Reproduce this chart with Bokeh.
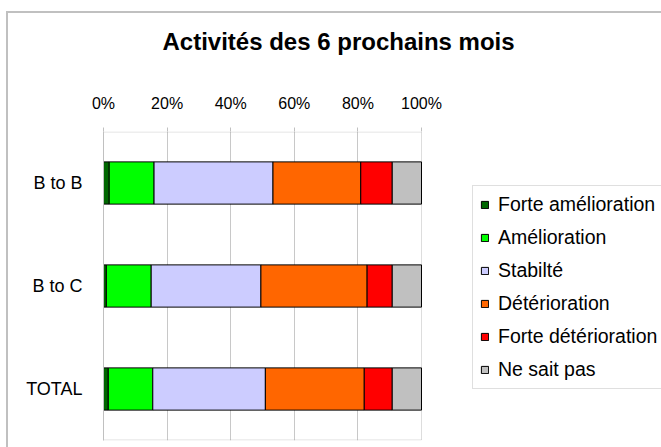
from bokeh.plotting import figure
from bokeh.models import (Legend, LegendItem, FixedTicker, PrintfTickFormatter,
                          Range1d, FactorRange, ColumnDataSource, InlineStyleSheet,
                          BoxAnnotation)
from bokeh.embed import file_html
from bokeh.resources import INLINE

# ---- data ----
categories = ["B to B", "B to C", "TOTAL"]
series = ["Forte amélioration", "Amélioration", "Stabilté", "Détérioration",
          "Forte détérioration", "Ne sait pas"]
forte_amelioration = [1.8, 0.9, 1.5]
amelioration = [14.1, 14.1, 14.0]
stabilite = [37.4, 34.5, 35.4]
deterioration = [27.6, 33.4, 31.1]
forte_deterioration = [9.9, 7.9, 8.8]
ne_sait_pas = [9.2, 9.2, 9.2]
x_ticks = [0, 20, 40, 60, 80, 100]
title_text = "Activités des 6 prochains mois"

colors = ["#006600", "#00ff00", "#ccccff", "#ff6600", "#ff0000", "#c0c0c0"]
keys = ["s0", "s1", "s2", "s3", "s4", "s5"]

source = ColumnDataSource(dict(
    cat=categories,
    s0=forte_amelioration, s1=amelioration, s2=stabilite,
    s3=deterioration, s4=forte_deterioration, s5=ne_sait_pas,
))

FONT = "Liberation Sans"

# layout geometry (pixels)
W, H = 661, 447
LEFT, TOP, BOTTOM = 103, 131, 7
PLOT_RIGHT = 421                      # right edge of the bar area
frame_w = W - LEFT
frame_h = H - TOP - BOTTOM
x_max = 100 * frame_w / (PLOT_RIGHT - LEFT)   # extends range so the legend fits in frame
n_cat = len(categories)
edge = 0.5 * n_cat / frame_h                  # half a pixel in category units

p = figure(width=W, height=H, output_backend="svg", toolbar_location=None,
           title=title_text,
           y_range=FactorRange(factors=categories[::-1]),
           x_range=Range1d(0, x_max), x_axis_location="above",
           min_border_left=LEFT, min_border_right=0, min_border_top=TOP,
           min_border_bottom=BOTTOM)

renderers = p.hbar_stack(keys, y="cat", height=0.41, color=colors, source=source,
                         line_color="black", line_width=1)

p.title.align = "left"
p.title.offset = 59
p.title.text_font = FONT
p.title.text_font_size = "24px"
p.title.text_font_style = "bold"
p.title.text_color = "black"
p.title.standoff = 51

p.outline_line_color = None
p.background_fill_color = "white"
p.border_fill_color = "white"

# plot-area border (0..100 %)
p.add_layout(BoxAnnotation(left=0, right=100, top=n_cat - edge, bottom=edge,
                           fill_alpha=0, line_color="#909090", line_width=1,
                           level="underlay"))

p.xgrid.grid_line_color = "#c8c8c8"
p.xgrid.ticker = FixedTicker(ticks=x_ticks[1:-1])
p.ygrid.grid_line_color = None

xa = p.xaxis[0]
xa.ticker = FixedTicker(ticks=x_ticks)
xa.formatter = PrintfTickFormatter(format="%d%%")
xa.axis_line_color = None
xa.major_tick_line_color = "#c0c0c0"
xa.major_tick_out = 4
xa.major_tick_in = 0
xa.minor_tick_line_color = None
xa.major_label_standoff = 16
xa.major_label_text_font = FONT
xa.major_label_text_font_size = "16px"
xa.major_label_text_color = "black"
# blank axis label: only adds a little room above the tick labels
xa.axis_label = " "
xa.axis_label_text_font_size = "2px"
xa.axis_label_standoff = 6

ya = p.yaxis[0]
ya.axis_line_color = "#c0c0c0"
ya.major_tick_line_color = None
ya.minor_tick_line_color = None
ya.major_label_standoff = 15
ya.major_label_text_font = FONT
ya.major_label_text_font_size = "18px"
ya.major_label_text_color = "black"

legend = Legend(
    items=[LegendItem(label=s, renderers=[r]) for s, r in zip(series, renderers)],
    location=(472 - LEFT, 51), orientation="vertical",
    label_text_font=FONT, label_text_font_size="19.5px", label_text_color="black",
    label_height=20, glyph_height=9, glyph_width=9, spacing=10, padding=7,
    margin=0, label_standoff=9,
    border_line_color="#c0c0c0", border_line_width=1,
    background_fill_color="white", background_fill_alpha=1,
)
p.add_layout(legend)

p.stylesheets = [InlineStyleSheet(css="""
:host { position: relative; }
:host::after {
  content: ""; position: absolute; left: 6px; top: 11px;
  width: 700px; height: 500px;
  border: 2px solid #c0c0c0; pointer-events: none;
}
""")]

open("out.html", "w").write(file_html(p, INLINE))
